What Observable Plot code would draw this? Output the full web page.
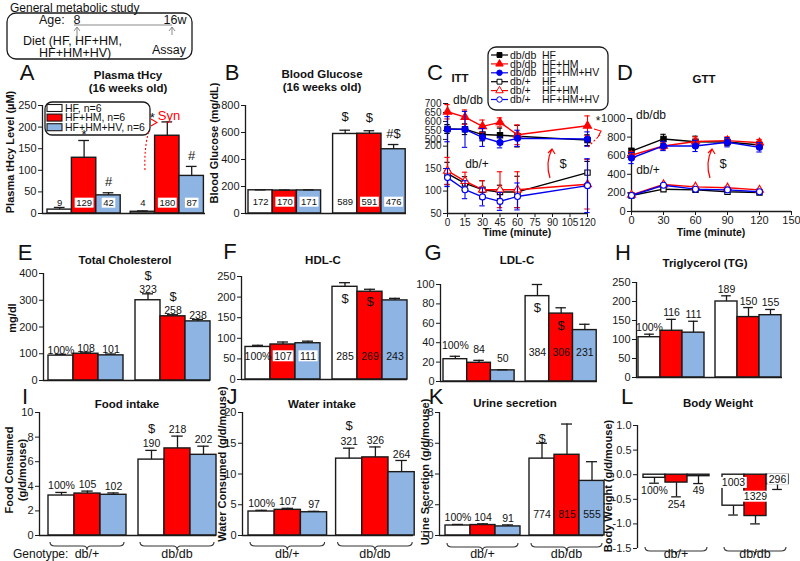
<!DOCTYPE html>
<html><head><meta charset="utf-8">
<script src="https://cdn.jsdelivr.net/npm/d3@7"></script>
<script src="https://cdn.jsdelivr.net/npm/@observablehq/plot@0.6"></script>
<style>
html,body{margin:0;padding:0;background:#fff;}
#root{position:relative;width:800px;height:561px;overflow:hidden;font-family:"Liberation Sans",Arial,Helvetica,sans-serif;color:#111;}
.t{position:absolute;white-space:nowrap;line-height:1;}
.pw{position:absolute;}
.pw svg{max-width:none;display:block;}
</style></head><body><div id="root"></div>
<script>
// ================= DATA =================
const diets = ["HF", "HF+HM", "HF+HM+HV"];
const genotypes = ["db/+", "db/db"];
// bar order: db/+ (HF, HF+HM, HF+HM+HV), db/db (HF, HF+HM, HF+HM+HV)
const hcyValues = [9, 129, 42, 4, 180, 87];
const hcyErrors = [5, 40, 6, 2, 32, 22];
const hcyLabels = ["9", "129", "42", "4", "180", "87"];
const hcySig = ["", "*", "#", "", "*", "#"];
const hcyTicks = [0, 50, 100, 150, 200, 250];

const gluValues = [172, 170, 171, 589, 591, 476];
const gluErrors = [3, 4, 4, 28, 22, 35];
const gluLabels = ["172", "170", "171", "589", "591", "476"];
const gluSig = ["", "", "", "$", "$", "#$"];
const gluTicks = [0, 200, 400, 600, 800];

const ittTimes = [0, 15, 30, 45, 60, 120];
const ittDbdbHF = [558, 557, 527, 523, 518, 496];
const ittDbdbHFErr = [25, 30, 35, 40, 60, 30];
const ittDbdbHM = [654, 624, 573, 595, 526, 576];
const ittDbdbHMErr = [40, 40, 35, 25, 55, 55];
const ittDbdbHV = [557, 556, 511, 483, 506, 502];
const ittDbdbHVErr = [70, 100, 50, 30, 45, 40];
const ittDbhHF = [139, 117, 103, 98, 98, 141];
const ittDbhHFErr = [25, 15, 20, 15, 35, 25];
const ittDbhHM = [145, 122, 103, 103, 103, 115];
const ittDbhHMErr = [30, 20, 20, 40, 40, 55];
const ittDbhHV = [130, 103, 87, 77, 88, 112];
const ittDbhHVErr = [20, 20, 20, 20, 30, 60];
const ittTicks = [50, 100, 150, 200, 500, 550, 600, 650, 700];
const ittTimeTicks = [0, 15, 30, 45, 60, 75, 90, 105, 120];

const gttTimes = [0, 30, 60, 90, 120];
const gttDbdbHF = [650, 780, 750, 748, 715];
const gttDbdbHFErr = [30, 50, 60, 40, 40];
const gttDbdbHM = [605, 705, 752, 762, 740];
const gttDbdbHMErr = [40, 40, 50, 40, 35];
const gttDbdbHV = [575, 705, 705, 745, 690];
const gttDbdbHVErr = [60, 50, 60, 50, 50];
const gttDbhHF = [172, 240, 233, 212, 205];
const gttDbhHFErr = [10, 10, 10, 10, 10];
const gttDbhHM = [178, 290, 265, 255, 232];
const gttDbhHMErr = [12, 12, 12, 15, 12];
const gttDbhHV = [172, 282, 240, 232, 212];
const gttDbhHVErr = [10, 12, 10, 10, 10];
const gttTicks = [0, 200, 400, 600, 800, 1000];
const gttTimeTicks = [0, 30, 60, 90, 120, 150];

const tcValues = [93, 100, 94, 300, 240, 221];
const tcErrors = [5, 6, 5, 24, 6, 7];
const tcLabels = ["100%", "108", "101", "323", "258", "238"];
const tcSig = ["", "", "", "$", "$", ""];
const tcTicks = [0, 100, 200, 300, 400];

const hdlValues = [79, 85, 88, 225, 213, 192];
const hdlErrors = [4, 6, 5, 10, 6, 5];
const hdlLabels = ["100%", "107", "111", "285", "269", "243"];
const hdlSig = ["", "", "", "$", "$", ""];
const hdlTicks = [0, 50, 100, 150, 200, 250];

const ldlValues = [23, 19.3, 11.5, 88, 70, 53];
const ldlErrors = [3, 2.5, 0.6, 12, 6, 6];
const ldlLabels = ["100%", "84", "50", "384", "306", "231"];
const ldlSig = ["", "", "", "$", "$", ""];
const ldlTicks = [0, 20, 40, 60, 80, 100];

const tgValues = [106, 123, 118, 200, 159, 164];
const tgErrors = [8, 30, 30, 15, 25, 15];
const tgLabels = ["100%", "116", "111", "189", "150", "155"];
const tgTicks = [0, 50, 100, 150, 200, 250];

const foodValues = [3.25, 3.41, 3.31, 6.17, 7.08, 6.56];
const foodErrors = [0.25, 0.2, 0.15, 0.75, 1.0, 0.7];
const foodLabels = ["100%", "105", "102", "190", "218", "202"];
const foodSig = ["", "", "", "$", "", ""];
const foodTicks = [0, 2, 4, 6, 8, 10];

const waterValues = [3.9, 4.17, 3.78, 12.5, 12.7, 10.3];
const waterErrors = [0.2, 0.25, 0.15, 1.7, 1.7, 1.9];
const waterLabels = ["100%", "107", "97", "321", "326", "264"];
const waterSig = ["", "", "", "$", "", ""];
const waterTicks = [0, 5, 10, 15, 20];

const urineValues = [0.65, 0.68, 0.59, 5.0, 5.25, 3.55];
const urineErrors = [0.07, 0.08, 0.1, 1.0, 2.0, 1.25];
const urineLabels = ["100%", "104", "91", "774", "815", "555"];
const urineSig = ["", "", "", "$", "", ""];
const urineTicks = [0, 2, 4, 6, 8];

const bwValues = [-0.063, -0.16, -0.03, -0.63, -0.84, -0.19];
const bwErrors = [0.11, 0.29, 0.15, 0.19, 0.16, 0.11];
const bwLabels = ["100%", "254", "49", "1003", "1329", "296"];
const bwTicks = [-1.5, -1.0, -0.5, 0.0, 0.5, 1.0];

// ================= STYLE / HELPERS =================
const FONT = '"Liberation Sans", Arial, Helvetica, sans-serif';
const INK = "#1a1a1a";
const DIET_FILL = ["#ffffff", "#ff0000", "#8db4e2"];
const root = document.getElementById("root");

function txt(s, x, y, o = {}) {
  const el = document.createElement("div");
  el.className = "t";
  el.textContent = s;
  el.style.left = x + "px";
  el.style.top = y + "px";
  el.style.fontSize = (o.size || 12) + "px";
  if (o.bold) el.style.fontWeight = "bold";
  if (o.color) el.style.color = o.color;
  const ax = o.anchor === "start" ? "0" : o.anchor === "end" ? "-100%" : "-50%";
  el.style.transform = `translate(${ax}, -50%)` + (o.rotate ? ` rotate(${o.rotate}deg)` : "");
  root.appendChild(el);
  return el;
}

function boxify(svg) {
  svg.querySelectorAll('g[aria-description="boxed"] text').forEach(t => {
    const b = t.getBBox();
    const r = document.createElementNS("http://www.w3.org/2000/svg", "rect");
    r.setAttribute("x", b.x - 1.5);
    r.setAttribute("y", b.y + 0.5);
    r.setAttribute("width", b.width + 3);
    r.setAttribute("height", Math.max(0, b.height - 1));
    r.setAttribute("fill", "white");
    r.setAttribute("stroke", "none");
    const tr = t.getAttribute("transform");
    if (tr) r.setAttribute("transform", tr);
    t.parentNode.insertBefore(r, t);
  });
}

function place(svg, left, top) {
  const wrap = document.createElement("div");
  wrap.className = "pw";
  wrap.style.left = left + "px";
  wrap.style.top = top + "px";
  wrap.appendChild(svg);
  root.appendChild(wrap);
}

const GENO_BASELINE = 558; // page y of the genotype labels under the braces

function barPanel(c) {
  const ML = 40, MR = 8, MT = 30, MB = 32;
  const W = c.right - c.left, H = c.bottom - c.top;
  const [ymin, ymax] = c.yDomain;
  const upp = (ymax - ymin) / H;
  const x0 = -(c.barStart - c.left) / c.barW;
  const x1 = x0 + W / c.barW;
  const gap = c.gapPx / c.barW;
  const rows = c.values.map((v, i) => {
    const g = Math.floor(i / 3), d = i % 3;
    const s = v < 0 ? -1 : 1;
    return {i, g, d, p: g * (3 + gap) + d, v, e: c.errors[i], end: v + s * c.errors[i],
            label: c.labels[i], sig: c.sig ? c.sig[i] : ""};
  });
  const texts = [];
  for (const r of rows) {
    if (r.label) {
      const q = c.labelPos(r);
      texts.push({x: r.p + 0.5 + (q.dx || 0) / c.barW, y: q.y + (q.h || 0) * upp, text: r.label,
                  size: c.labelSize || 10.5, box: !!q.box, color: "#111"});
    }
    if (r.sig) {
      const q = c.sigPos(r);
      texts.push({x: r.p + 0.5 + (q.dx || 0) / c.barW, y: q.y + (q.h || 0) * upp, text: r.sig,
                  size: 13, box: false, color: "#111"});
    }
  }
  const textMarks = d3.groups(texts, t => t.size + "|" + t.box).map(([, arr]) =>
    Plot.text(arr, {x: "x", y: "y", text: "text", fill: "color", fontSize: arr[0].size,
                    lineAnchor: "middle", ariaDescription: arr[0].box ? "boxed" : "plain"}));
  const marks = [
    Plot.rect(rows, {x1: "p", x2: r => r.p + 1, y1: 0, y2: "v", fill: r => DIET_FILL[r.d], stroke: INK, strokeWidth: 1.4}),
    Plot.ruleX(rows, {x: r => r.p + 0.5, y1: "v", y2: "end", stroke: INK, strokeWidth: 1.3}),
    Plot.ruleY(rows, {y: "end", x1: r => r.p + 0.28, x2: r => r.p + 0.72, stroke: INK, strokeWidth: 1.3}),
    Plot.ruleX([x0], {y1: ymin, y2: ymax, stroke: INK, strokeWidth: 1.3})
  ];
  if (c.baseline !== false) marks.push(Plot.ruleY([0], {x1: x0, x2: x1, stroke: INK, strokeWidth: 1.3}));
  marks.push(...textMarks);
  const plot = Plot.plot({
    width: W + ML + MR, height: H + MT + MB,
    marginLeft: ML, marginRight: MR, marginTop: MT, marginBottom: MB,
    style: {background: "none", overflow: "visible", fontFamily: FONT, fontSize: "11px", color: INK, maxWidth: "none"},
    color: {type: "identity"},
    x: {domain: [x0, x1], axis: null},
    y: {domain: c.yDomain, ticks: c.yTicks, tickSize: 4, tickPadding: 2, tickFormat: c.tickFormat || (d => String(d)), label: null},
    marks
  });
  place(plot, c.left - ML, c.top - MT);
  boxify(plot);
  if (c.braces) {
    const xs = plot.scale("x"), ys = plot.scale("y");
    const sel = d3.select(plot);
    const yb = ys.apply(ymin) + c.braceDy;
    const yl = GENO_BASELINE - (c.top - MT);
    [0, 1].forEach(g => {
      const a = xs.apply(g * (3 + gap)) + 2, b = xs.apply(g * (3 + gap) + 3) - 2, m = (a + b) / 2;
      sel.append("path")
        .attr("d", `M${a},${yb} q0,4 5,4 H${m - 4} q4,0 4,4 q0,-4 4,-4 H${b - 5} q5,0 5,-4`)
        .attr("fill", "none").attr("stroke", "#333").attr("stroke-width", 1.1);
      sel.append("text").attr("x", m).attr("y", yl).attr("text-anchor", "middle")
        .attr("font-size", 12.5).attr("fill", "#111").text(genotypes[g]);
    });
  }
  return plot;
}

function linePanel(c) {
  const ML = 40, MR = 12, MT = 20, MB = 30;
  const W = c.right - c.left, H = c.bottom - c.top;
  const map = c.yMap || (v => v);
  const marks = [
    Plot.ruleX([c.xDomain[0]], {y1: c.yDomain[0], y2: c.yDomain[1], stroke: INK, strokeWidth: 1.3}),
    Plot.ruleY([c.yDomain[0]], {x1: c.xDomain[0], x2: c.xDomain[1], stroke: INK, strokeWidth: 1.3})
  ];
  for (const s of c.series) {
    const rows = c.times.map((t, j) => ({t, v: s.values[j], e: s.errors[j]}));
    marks.push(
      Plot.ruleX(rows, {x: "t", y1: r => map(r.v - r.e), y2: r => map(r.v + r.e), stroke: s.color, strokeWidth: 1.1}),
      Plot.ruleY(rows, {y: r => map(r.v + r.e), x1: r => r.t - c.cap, x2: r => r.t + c.cap, stroke: s.color, strokeWidth: 1.1}),
      Plot.ruleY(rows, {y: r => map(r.v - r.e), x1: r => r.t - c.cap, x2: r => r.t + c.cap, stroke: s.color, strokeWidth: 1.1}),
      Plot.line(rows, {x: "t", y: r => map(r.v), stroke: s.color, strokeWidth: 1.4}),
      Plot.dot(rows, {x: "t", y: r => map(r.v), symbol: s.symbol, r: 3, fill: s.filled ? s.color : "white", stroke: s.color, strokeWidth: 1.1})
    );
  }
  const plot = Plot.plot({
    width: W + ML + MR, height: H + MT + MB,
    marginLeft: ML, marginRight: MR, marginTop: MT, marginBottom: MB,
    style: {background: "none", overflow: "visible", fontFamily: FONT, fontSize: (c.fontSize || 11) + "px", color: INK, maxWidth: "none"},
    x: {domain: c.xDomain, ticks: c.xTicks, tickSize: 4, tickPadding: 1, label: null},
    y: {domain: c.yDomain, ticks: c.yTicks, tickSize: 4, tickPadding: 2, tickFormat: c.yFormat || (d => String(d)), label: null},
    marks
  });
  place(plot, c.left - ML, c.top - MT);
  return plot;
}

// ITT broken axis: 50-200 on one scale; the db/db band (around 450-700) compressed above it
function ittY(v) {
  if (v <= 260) return v;
  if (v >= 400) return 215 + (v - 500) * 0.4;
  return 260 + (v - 260) * (175 - 260) / 140;
}
function ittInv(d) {
  if (d <= 200) return d;
  return 500 + (d - 215) / 0.4;
}

const seriesStyle = [
  {color: "#000000", symbol: "square"},
  {color: "#ff0000", symbol: "triangle"},
  {color: "#0000ee", symbol: "circle"}
];
const ittSeries = [
  {values: ittDbhHF, errors: ittDbhHFErr, ...seriesStyle[0], filled: false},
  {values: ittDbhHM, errors: ittDbhHMErr, ...seriesStyle[1], filled: false},
  {values: ittDbhHV, errors: ittDbhHVErr, ...seriesStyle[2], filled: false},
  {values: ittDbdbHF, errors: ittDbdbHFErr, ...seriesStyle[0], filled: true},
  {values: ittDbdbHM, errors: ittDbdbHMErr, ...seriesStyle[1], filled: true},
  {values: ittDbdbHV, errors: ittDbdbHVErr, ...seriesStyle[2], filled: true}
];
const gttSeries = [
  {values: gttDbhHF, errors: gttDbhHFErr, ...seriesStyle[0], filled: false},
  {values: gttDbhHM, errors: gttDbhHMErr, ...seriesStyle[1], filled: false},
  {values: gttDbhHV, errors: gttDbhHVErr, ...seriesStyle[2], filled: false},
  {values: gttDbdbHF, errors: gttDbdbHFErr, ...seriesStyle[0], filled: true},
  {values: gttDbdbHM, errors: gttDbdbHMErr, ...seriesStyle[1], filled: true},
  {values: gttDbdbHV, errors: gttDbdbHVErr, ...seriesStyle[2], filled: true}
];

// ================= A legend (behind the plot) =================
(function () {
  const svg = d3.select(root).append("svg").attr("width", 112).attr("height", 40)
    .style("position", "absolute").style("left", "42px").style("top", "99px").style("overflow", "visible");
  svg.append("rect").attr("x", 3).attr("y", 3).attr("width", 105).attr("height", 33).attr("rx", 7)
    .attr("fill", "none").attr("stroke", INK).attr("stroke-width", 1.3);
  const names = ["HF, n=6", "HF+HM, n=6", "HF+HM+HV, n=6"];
  names.forEach((n, k) => {
    const y = 9 + k * 9.6;
    svg.append("rect").attr("x", 5).attr("y", y - 3.5).attr("width", 15).attr("height", 7)
      .attr("fill", DIET_FILL[k]).attr("stroke", INK).attr("stroke-width", 1.1);
    svg.append("text").attr("x", 23).attr("y", y + 3.6).attr("font-size", 10.5).attr("fill", "#111").text(n);
  });
})();

// ================= PANELS =================
barPanel({left: 42, right: 205, top: 105, bottom: 213, barStart: 47, barW: 24.4, gapPx: 10,
  yDomain: [0, 250], yTicks: hcyTicks, values: hcyValues, errors: hcyErrors, labels: hcyLabels, sig: hcySig,
  labelSize: 9.5,
  labelPos: r => ({y: 24, box: r.d !== 0}),
  sigPos: r => r.i === 4 ? {y: r.end, h: 4.4, dx: -15} : {y: r.end, h: r.sig === "*" ? 6 : 11}});

barPanel({left: 245, right: 406, top: 105, bottom: 213, barStart: 248, barW: 24.2, gapPx: 12,
  yDomain: [0, 800], yTicks: gluTicks, values: gluValues, errors: gluErrors, labels: gluLabels, sig: gluSig,
  labelSize: 9.5,
  labelPos: r => ({y: 84, box: r.d !== 0}),
  sigPos: r => ({y: r.end, h: r.sig === "#$" ? 10.7 : 13})});

linePanel({left: 447, right: 587, top: 103, bottom: 213, xDomain: [0, 120], xTicks: ittTimeTicks,
  yDomain: [50, ittY(700)], yTicks: ittTicks.map(ittY), yFormat: d => String(Math.round(ittInv(d))),
  yMap: ittY, times: ittTimes, series: ittSeries, cap: 2.3, fontSize: 10});

linePanel({left: 631, right: 791, top: 118, bottom: 211, xDomain: [0, 150], xTicks: gttTimeTicks,
  yDomain: [0, 1000], yTicks: gttTicks, times: gttTimes, series: gttSeries, cap: 2.5});

barPanel({left: 43, right: 210, top: 273, bottom: 380, barStart: 48, barW: 25, gapPx: 12,
  yDomain: [0, 400], yTicks: tcTicks, values: tcValues, errors: tcErrors, labels: tcLabels, sig: tcSig,
  labelPos: r => ({y: r.end, h: 4}),
  sigPos: r => ({y: r.end, h: 18})});

barPanel({left: 241, right: 407, top: 276, bottom: 379, barStart: 245, barW: 25, gapPx: 12,
  yDomain: [0, 250], yTicks: hdlTicks, values: hdlValues, errors: hdlErrors, labels: hdlLabels, sig: hdlSig,
  labelPos: r => ({y: 56, box: r.i === 1 || r.i === 2}),
  sigPos: r => ({y: r.i === 3 ? 196 : 188})});

barPanel({left: 440, right: 597, top: 284, bottom: 381, barStart: 443, barW: 23.7, gapPx: 11,
  yDomain: [0, 100], yTicks: ldlTicks, values: ldlValues, errors: ldlErrors, labels: ldlLabels, sig: ldlSig,
  labelPos: r => r.g === 0 ? {y: r.end, h: 11} : {y: 30},
  sigPos: r => ({y: r.i === 3 ? 76 : 57})});

barPanel({left: 636, right: 782, top: 282, bottom: 377, barStart: 638, barW: 22, gapPx: 11,
  yDomain: [0, 250], yTicks: tgTicks, values: tgValues, errors: tgErrors, labels: tgLabels,
  labelPos: r => ({y: r.end, h: 6.4})});

barPanel({left: 39, right: 216, top: 412, bottom: 535, barStart: 48, barW: 26, gapPx: 12,
  yDomain: [0, 10], yTicks: foodTicks, values: foodValues, errors: foodErrors, labels: foodLabels, sig: foodSig,
  labelPos: r => ({y: r.end, h: 6.5}),
  sigPos: r => ({y: r.end, h: 21.5}), braces: true, braceDy: 7});

barPanel({left: 242, right: 413, top: 412, bottom: 535, barStart: 248, barW: 26.2, gapPx: 9,
  yDomain: [0, 20], yTicks: waterTicks, values: waterValues, errors: waterErrors, labels: waterLabels, sig: waterSig,
  labelPos: r => ({y: r.end, h: 6.3}),
  sigPos: r => ({y: r.end, h: 22}), braces: true, braceDy: 7});

barPanel({left: 439, right: 603, top: 412, bottom: 535, barStart: 445, barW: 25, gapPx: 9,
  yDomain: [0, 8], yTicks: urineTicks, values: urineValues, errors: urineErrors, labels: urineLabels, sig: urineSig,
  labelPos: r => r.g === 0 ? {y: r.end, h: 6.5} : {y: 1.35},
  sigPos: r => ({y: r.end, h: 4}), braces: true, braceDy: 8});

barPanel({left: 637, right: 788, top: 425, bottom: 548, barStart: 643, barW: 22, gapPx: 13,
  yDomain: [-1.5, 1.0], yTicks: bwTicks, tickFormat: d => d.toFixed(1), baseline: false,
  values: bwValues, errors: bwErrors, labels: bwLabels,
  labelPos: r => r.g === 0 ? {y: r.end, h: -7.5} : {y: [-0.17, -0.45, -0.1][r.d], box: true},
  braces: true, braceDy: -1});

// ================= C legend =================
(function () {
  const svg = d3.select(root).append("svg").attr("width", 126).attr("height", 70)
    .style("position", "absolute").style("left", "485px").style("top", "44px").style("overflow", "visible");
  svg.append("rect").attr("x", 3).attr("y", 3).attr("width", 120).attr("height", 63).attr("rx", 8)
    .attr("fill", "white").attr("stroke", INK).attr("stroke-width", 1.3);
  const entries = [
    ["db/db", "HF", 0, true], ["db/db", "HF+HM", 1, true], ["db/db", "HF+HM+HV", 2, true],
    ["db/+", "HF", 0, false], ["db/+", "HF+HM", 1, false], ["db/+", "HF+HM+HV", 2, false]
  ];
  const symType = {square: d3.symbolSquare, triangle: d3.symbolTriangle, circle: d3.symbolCircle};
  entries.forEach(([g, dname, k, filled], j) => {
    const y = 11 + j * 8.9;
    const st = seriesStyle[k];
    svg.append("line").attr("x1", 6).attr("x2", 23).attr("y1", y).attr("y2", y).attr("stroke", st.color).attr("stroke-width", 1.2);
    svg.append("path").attr("d", d3.symbol(symType[st.symbol], 24)()).attr("transform", `translate(14.5,${y})`)
      .attr("fill", filled ? st.color : "white").attr("stroke", st.color).attr("stroke-width", 1);
    svg.append("text").attr("x", 25).attr("y", y + 3.6).attr("font-size", 10.5).attr("fill", "#111").text(g);
    svg.append("text").attr("x", 57).attr("y", y + 3.6).attr("font-size", 10.5).attr("fill", "#111").text(dname);
  });
})();

// ================= TEXT =================
// schematic
txt("General metabolic study", 10, 8, {size: 12, anchor: "start"});
txt("Age:", 39, 20, {size: 12.5, anchor: "start"});
txt("8", 77, 20, {size: 12.5});
txt("16w", 175, 20, {size: 12.5});
txt("Diet  (HF, HF+HM,", 23, 41, {size: 12.5, anchor: "start"});
txt("HF+HM+HV)", 39, 53, {size: 12.5, anchor: "start"});
txt("Assay", 152, 50, {size: 12.5, anchor: "start"});

// panel letters
[["A", 27, 73], ["B", 232, 73], ["C", 435, 73], ["D", 625, 73],
 ["E", 25, 253], ["F", 230, 252], ["G", 433, 253], ["H", 623, 253],
 ["I", 25, 397], ["J", 232, 397], ["K", 436, 397], ["L", 627, 397]]
  .forEach(([s, x, y]) => txt(s, x, y, {size: 22}));

// panel titles
[["Plasma tHcy", 128, 76], ["(16 weeks old)", 128, 89], ["Blood Glucose", 322, 75], ["(16 weeks old)", 322, 88],
 ["ITT", 460, 79], ["GTT", 704, 80], ["Total Cholesterol", 125, 261], ["HDL-C", 323, 261],
 ["LDL-C", 517, 261], ["Triglycerol (TG)", 705, 264], ["Food intake", 127, 405], ["Water intake", 322, 405],
 ["Urine secretion", 515, 404], ["Body Weight", 718, 404]]
  .forEach(([s, x, y]) => txt(s, x, y, {size: 11.5, bold: true}));

// y-axis titles
txt("Plasma tHcy Level (\u00b5M)", 10, 152, {size: 11, bold: true, rotate: -90});
txt("Blood Glucose (mg/dL)", 214, 143, {size: 11, bold: true, rotate: -90});
txt("mg/dl", 12, 318, {size: 11, bold: true, rotate: -90});
txt("Food Consumed", 9, 470, {size: 11, bold: true, rotate: -90});
txt("(g/d/mouse)", 22, 470, {size: 11, bold: true, rotate: -90});
txt("Water Consumed (g/d/mouse)", 222, 464, {size: 11, bold: true, rotate: -90});
txt("Urine Secretion (g/d/mouse)", 425, 472, {size: 11, bold: true, rotate: -90});
txt("Body Weight (g/d/mouse)", 608, 486, {size: 11, bold: true, rotate: -90});

// x-axis titles
txt("Time (minute)", 517, 232, {size: 10.5, bold: true});
txt("Time (minute)", 711, 232, {size: 10.5, bold: true});

// in-plot annotations
txt("Syn", 169, 115, {size: 13, color: "#ff0000"});
txt("db/db", 468, 100, {size: 12});
txt("db/+", 477, 164, {size: 12});
txt("$", 563, 163, {size: 13});
txt("*", 598, 121, {size: 12});
txt("db/db", 651, 115, {size: 12});
txt("db/+", 648, 170, {size: 12});
txt("$", 723, 163, {size: 13});
txt("Genotype:", 13, 554, {size: 12, anchor: "start"});

// ================= overlay lines =================
(function () {
  const ov = d3.select(root).append("svg").attr("width", 800).attr("height", 561)
    .style("position", "absolute").style("left", 0).style("top", 0).style("pointer-events", "none");
  ov.append("rect").attr("x", 7).attr("y", 13).attr("width", 185).attr("height", 46).attr("rx", 9)
    .attr("fill", "none").attr("stroke", INK).attr("stroke-width", 1.3);
  const grey = "#8a8a8a";
  ov.append("line").attr("x1", 74).attr("x2", 172).attr("y1", 25).attr("y2", 25).attr("stroke", grey).attr("stroke-width", 1.2);
  [[77, 38], [172, 35]].forEach(([x, y0]) => {
    ov.append("path").attr("d", `M${x},${y0} V27 M${x - 3},31 L${x},27 L${x + 3},31`)
      .attr("fill", "none").attr("stroke", grey).attr("stroke-width", 1);
  });
  const red = "#ff0000";
  // A: Syn dashed arrow
  ov.append("path").attr("d", "M145,170 Q144,148 149,130").attr("fill", "none").attr("stroke", red)
    .attr("stroke-width", 1.1).attr("stroke-dasharray", "2,2");
  ov.append("path").attr("d", "M151,119 L157,122.5 L151,126").attr("fill", "none").attr("stroke", red).attr("stroke-width", 1.1);
  // C: curved arrow and dashed pointer
  ov.append("path").attr("d", "M550,178 Q545,163 552,149 M548,153 L552,149 L555,154").attr("fill", "none").attr("stroke", red).attr("stroke-width", 1.2);
  ov.append("path").attr("d", "M588,147 L600,135").attr("fill", "none").attr("stroke", red)
    .attr("stroke-width", 1.1).attr("stroke-dasharray", "2,2");
  ov.append("path").attr("d", "M594,129 L601,131 L598,137").attr("fill", "none").attr("stroke", red).attr("stroke-width", 1.1);
  // D: curved arrow
  ov.append("path").attr("d", "M710,178 Q705,163 712,149 M708,153 L712,149 L715,154").attr("fill", "none").attr("stroke", red).attr("stroke-width", 1.2);
})();
</script></body></html>
